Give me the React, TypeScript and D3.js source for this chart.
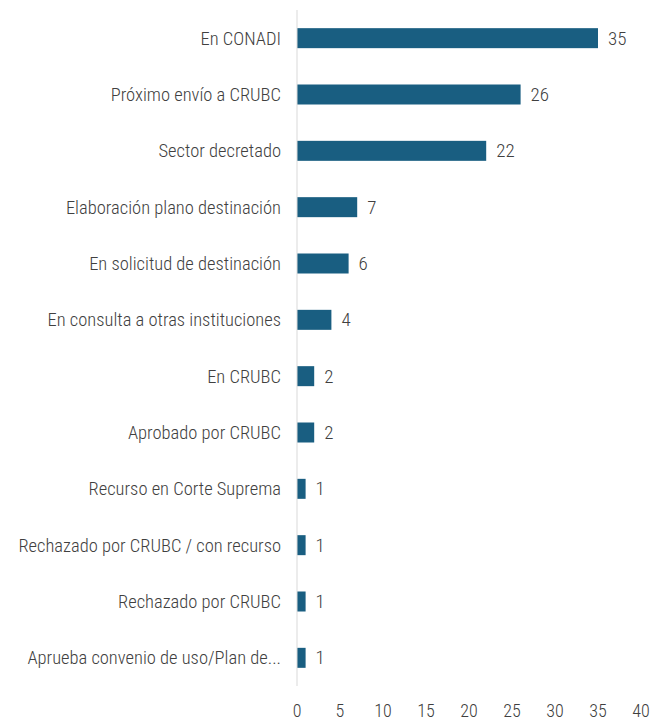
import React, { useEffect, useRef } from "react";
import * as d3 from "d3";

const categories = [
  "En CONADI",
  "Próximo envío a CRUBC",
  "Sector decretado",
  "Elaboración plano destinación",
  "En solicitud de destinación",
  "En consulta a otras instituciones",
  "En CRUBC",
  "Aprobado por CRUBC",
  "Recurso en Corte Suprema",
  "Rechazado por CRUBC / con recurso",
  "Rechazado por CRUBC",
  "Aprueba convenio de uso/Plan de...",
];
const values = [35, 26, 22, 7, 6, 4, 2, 2, 1, 1, 1, 1];
const xTicks = [0, 5, 10, 15, 20, 25, 30, 35, 40];

const FONT = "'Roboto Condensed', 'Liberation Sans Narrow', sans-serif";

export default function App() {
  const svgRef = useRef<SVGSVGElement>(null);

  useEffect(() => {
    const width = 667;
    const height = 723;
    const margin = { top: 10, right: 27, bottom: 37, left: 297 };
    const h = height - margin.top - margin.bottom;

    const svg = d3.select(svgRef.current)
      .attr("width", width)
      .attr("height", height);
    svg.selectAll("*").remove();

    const g = svg.append("g")
      .attr("transform", `translate(${margin.left}, ${margin.top})`);

    const x = d3.scaleLinear().domain([0, 40]).range([0, 344]);
    const y = d3.scaleBand<string>()
      .domain(categories)
      .range([0, h])
      .paddingInner(0.645)
      .paddingOuter(0.3225);

    // bars
    g.selectAll("rect.bar")
      .data(values)
      .join("rect")
      .attr("class", "bar")
      .attr("x", 0)
      .attr("y", (d, i) => y(categories[i])!)
      .attr("width", d => x(d))
      .attr("height", y.bandwidth())
      .style("fill", "#195e81");

    // axis line
    g.append("line")
      .attr("x1", 0).attr("x2", 0)
      .attr("y1", 0).attr("y2", h)
      .style("stroke", "#d9d9d9")
      .style("stroke-width", 1);

    // category labels
    g.selectAll("text.cat")
      .data(categories)
      .join("text")
      .attr("class", "cat")
      .attr("x", -16)
      .attr("y", d => y(d)! + y.bandwidth() / 2)
      .attr("dy", "0.35em")
      .style("text-anchor", "end")
      .style("font-family", FONT)
      .style("font-weight", 300)
      .style("font-size", "18.5px")
      .style("fill", "#404040")
      .text(d => d);

    // value labels
    g.selectAll("text.val")
      .data(values)
      .join("text")
      .attr("class", "val")
      .attr("x", d => x(d) + 10)
      .attr("y", (d, i) => y(categories[i])! + y.bandwidth() / 2)
      .attr("dy", "0.35em")
      .style("font-family", FONT)
      .style("font-weight", 300)
      .style("font-size", "19px")
      .style("fill", "#404040")
      .text(d => d);

    // x tick labels
    g.selectAll("text.tick")
      .data(xTicks)
      .join("text")
      .attr("class", "tick")
      .attr("x", d => x(d))
      .attr("y", h + 31)
      .style("text-anchor", "middle")
      .style("font-family", FONT)
      .style("font-weight", 300)
      .style("font-size", "18px")
      .style("fill", "#404040")
      .text(d => d);
  }, []);

  return <svg ref={svgRef} style={{ position: "absolute", left: 0, top: 0 }} />;
}
